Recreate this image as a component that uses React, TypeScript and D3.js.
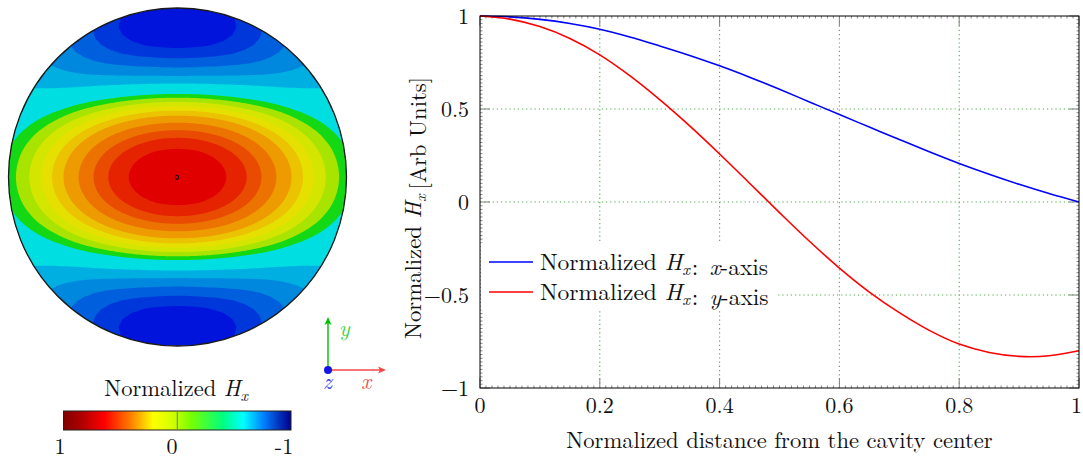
import React from 'react';
import * as d3 from 'd3';

// ---------- data ----------
const distance = [0, 0.05, 0.1, 0.15, 0.2, 0.25, 0.3, 0.35, 0.4, 0.45, 0.5, 0.55, 0.6, 0.65, 0.7, 0.75, 0.8, 0.85, 0.9, 0.95, 1];
const hxAlongX = [1.0, 0.9955, 0.982, 0.96, 0.929, 0.8875, 0.839, 0.788, 0.732, 0.671, 0.606, 0.538, 0.47, 0.403, 0.336, 0.27, 0.207, 0.149, 0.095, 0.0455, 0.0];
const hxAlongY = [1.0, 0.983, 0.943, 0.879, 0.791, 0.679, 0.55, 0.409, 0.258, 0.101, -0.057, -0.211, -0.355, -0.484, -0.595, -0.69, -0.764, -0.809, -0.83, -0.827, -0.8];

const seriesLabels = ['x', 'y'];
const seriesColors = ['#0000ff', '#ff0000'];

const xTickValues = [0, 0.2, 0.4, 0.6, 0.8, 1];
const xTickLabels = ['0', '0.2', '0.4', '0.6', '0.8', '1'];
const yTickValues = [-1, -0.5, 0, 0.5, 1];
const yTickLabels = ['\u22121', '\u22120.5', '0', '0.5', '1'];

// filled-contour levels and the colour of each band (lowest band first)
const contourLevels = [-0.71, -0.6, -0.48, -0.35, -0.22, -0.03, 0.04, 0.12, 0.2, 0.28, 0.37, 0.49, 0.61, 0.72, 0.85];
const bandColors = ['#0014dc', '#0037da', '#005fdc', '#0087de', '#00afe1', '#00dee1', '#14d814', '#a8e400', '#d4e600', '#e6e000', '#ebc300', '#ee9b00', '#ec7300', '#e94b00', '#e52300', '#e00000'];

const colorbarOffsets = [0, 0.08, 0.18, 0.29, 0.395, 0.48, 0.56, 0.7, 0.79, 0.88, 0.95, 1];
const colorbarColors = ['#800000', '#b00000', '#ff0000', '#ff7800', '#ffff00', '#d2ff00', '#78ff00', '#00ff80', '#00ffff', '#0080ff', '#0030b8', '#000090'];
const colorbarTickLabels = ['1', '0', '-1'];

const FONT = "'Latin Modern Roman','Liberation Serif','Times New Roman',serif";

function HxLabel({ size }: { size: number }) {
  return (
    <>
      <tspan fontStyle="italic">H</tspan>
      <tspan fontStyle="italic" fontSize={size * 0.7} dy={size * 0.22}>x</tspan>
      <tspan dy={-size * 0.22}>{''}</tspan>
    </>
  );
}

export default function App() {
  const W = 1083;
  const H = 461;

  // ----- left: contour map in a circle -----
  const cx = 177.5, cy = 177, R = 169;
  const fx = d3.scaleLinear().domain(distance).range(hxAlongX).clamp(true);
  const fy = d3.scaleLinear().domain(distance).range(hxAlongY).clamp(true);
  const N = 280;
  const ext = 1.03;
  const cell = (2 * R * ext) / N;
  const values: number[] = new Array(N * N);
  for (let j = 0; j < N; j++) {
    for (let i = 0; i < N; i++) {
      const px = -ext + ((i + 0.5) * 2 * ext) / N;
      const py = ext - ((j + 0.5) * 2 * ext) / N;
      const r = Math.hypot(px, py);
      const rc = Math.min(r, 1);
      const c2 = r > 1e-9 ? (px * px) / (r * r) : 0.5;
      values[j * N + i] = fx(rc) * c2 + fy(rc) * (1 - c2);
    }
  }
  const contours = d3.contours().size([N, N]).thresholds(contourLevels)(values);
  const gp = d3.geoPath();

  // ----- right: line chart -----
  const xs = d3.scaleLinear().domain([0, 1]).range([480, 1079]);
  const ys = d3.scaleLinear().domain([-1, 1]).range([388, 16]);
  const [x0, x1] = xs.range();
  const [yb, yt] = ys.range();
  const line = d3
    .line<number>()
    .x((_, i) => xs(distance[i]))
    .y((d) => ys(d))
    .curve(d3.curveCatmullRom.alpha(0.5));
  const series = [hxAlongX, hxAlongY];

  const minorX = d3.range(0, 100).map((k) => k / 100).filter((v) => Math.abs(v * 5 - Math.round(v * 5)) > 1e-6);
  const minorY = d3.range(-50, 50).map((k) => k / 50).filter((v) => Math.abs(v * 2 - Math.round(v * 2)) > 1e-6);

  const gridColor = '#4fa84f';
  const tickColor = '#808080';

  return (
    <svg width={W} height={H} style={{ position: 'absolute', left: 0, top: 0, background: '#fff' }} fontFamily={FONT}>
      <defs>
        <clipPath id="circleClip">
          <circle cx={cx} cy={cy} r={R} />
        </clipPath>
        <linearGradient id="cbGrad" x1="0" x2="1" y1="0" y2="0">
          {colorbarOffsets.map((o, i) => (
            <stop key={i} offset={o} stopColor={colorbarColors[i]} />
          ))}
        </linearGradient>
      </defs>

      {/* contour map */}
      <g clipPath="url(#circleClip)">
        <circle cx={cx} cy={cy} r={R} fill={bandColors[0]} />
        <g transform={`translate(${cx - R * ext},${cy - R * ext}) scale(${cell})`}>
          {contours.map((c, i) => (
            <path key={i} d={gp(c) || ''} fill={bandColors[i + 1]} />
          ))}
        </g>
      </g>
      <circle cx={cx} cy={cy} r={R} fill="none" stroke="#1a1a1a" strokeWidth={1.3} />
      <ellipse cx={cx - 0.5} cy={cy + 0.3} rx={1.6} ry={2.1} fill="none" stroke="#000" strokeWidth={1} />

      {/* coordinate indicator */}
      <g>
        <line x1={328} y1={370} x2={328} y2={322} stroke="#00c000" strokeWidth={1.4} />
        <path d="M328,317 L324.5,325 L328,323 L331.5,325 Z" fill="#00c000" />
        <line x1={328} y1={370} x2={380} y2={370} stroke="#f04848" strokeWidth={1.4} />
        <path d="M386,370 L378,366.5 L380,370 L378,373.5 Z" fill="#f04848" />
        <circle cx={328} cy={370} r={4} fill="#1414e6" />
        <text x={339} y={336} fontSize={22} fontStyle="italic" fill="#3cd23c">y</text>
        <text x={323} y={389} fontSize={22} fontStyle="italic" fill="#3c3ce6">z</text>
        <text x={361} y={389} fontSize={22} fontStyle="italic" fill="#f05050">x</text>
      </g>

      {/* colorbar */}
      <text x={176} y={396} fontSize={22.5} textAnchor="middle" fill="#111">
        Normalized <HxLabel size={22.5} />
      </text>
      <rect x={63.5} y={411} width={227.5} height={19} fill="url(#cbGrad)" stroke="#222" strokeWidth={1} />
      <line x1={177.3} x2={177.3} y1={411} y2={430} stroke="#777" strokeWidth={1} />
      {colorbarTickLabels.map((t, i) => (
        <text key={t} x={[60, 172, 284][i]} y={454} fontSize={22} textAnchor="middle" fill="#111">
          {t}
        </text>
      ))}

      {/* grid */}
      {xTickValues.slice(1, -1).map((v) => (
        <line key={'gx' + v} x1={xs(v)} x2={xs(v)} y1={yb} y2={yt} stroke={gridColor} strokeWidth={1.1} strokeDasharray="1.2 3" />
      ))}
      {yTickValues.slice(1, -1).map((v) => (
        <line key={'gy' + v} x1={x0} x2={x1} y1={ys(v)} y2={ys(v)} stroke={gridColor} strokeWidth={1.1} strokeDasharray="1.2 3" />
      ))}

      {/* minor ticks */}
      {minorX.map((v) => (
        <g key={'mx' + v}>
          <line x1={xs(v)} x2={xs(v)} y1={yb} y2={yb - 2.5} stroke="#555" strokeWidth={0.7} />
          <line x1={xs(v)} x2={xs(v)} y1={yt} y2={yt + 2.5} stroke="#555" strokeWidth={0.7} />
        </g>
      ))}
      {minorY.map((v) => (
        <g key={'my' + v}>
          <line x1={x0} x2={x0 + 2.5} y1={ys(v)} y2={ys(v)} stroke="#555" strokeWidth={0.7} />
          <line x1={x1} x2={x1 - 2.5} y1={ys(v)} y2={ys(v)} stroke="#555" strokeWidth={0.7} />
        </g>
      ))}

      {/* major ticks */}
      {xTickValues.map((v) => (
        <g key={'tx' + v}>
          <line x1={xs(v)} x2={xs(v)} y1={yb} y2={yb - 10} stroke={tickColor} strokeWidth={1} />
          <line x1={xs(v)} x2={xs(v)} y1={yt} y2={yt + 10} stroke={tickColor} strokeWidth={1} />
        </g>
      ))}
      {yTickValues.map((v) => (
        <g key={'ty' + v}>
          <line x1={x0} x2={x0 + 10} y1={ys(v)} y2={ys(v)} stroke={tickColor} strokeWidth={1} />
          <line x1={x1} x2={x1 - 10} y1={ys(v)} y2={ys(v)} stroke={tickColor} strokeWidth={1} />
        </g>
      ))}

      {/* curves */}
      {series.map((s, i) => (
        <path key={'s' + i} d={line(s) || ''} fill="none" stroke={seriesColors[i]} strokeWidth={1.6} />
      ))}

      {/* axis box */}
      <rect x={x0} y={yt} width={x1 - x0} height={yb - yt} fill="none" stroke="#000" strokeWidth={1} />

      {/* tick labels */}
      {xTickValues.map((v, i) => (
        <text key={'xl' + v} x={Math.min(xs(v), 1076.5)} y={413} fontSize={22} textAnchor="middle" fill="#111">
          {xTickLabels[i]}
        </text>
      ))}
      {yTickValues.map((v, i) => (
        <text key={'yl' + v} x={469} y={ys(v) + 7.5} fontSize={22} textAnchor="end" fill="#111">
          {yTickLabels[i]}
        </text>
      ))}

      {/* axis titles */}
      <text x={(x0 + x1) / 2} y={448} fontSize={22.6} textAnchor="middle" fill="#111">
        Normalized distance from the cavity center
      </text>
      <text transform="translate(421,208) rotate(-90)" fontSize={22.7} textAnchor="middle" fill="#111">
        Normalized <HxLabel size={22.7} /><tspan dx={5}>[Arb Units]</tspan>
      </text>

      {/* legend */}
      <rect x={481} y={243} width={295} height={67} fill="#fff" />
      {series.map((_, i) => (
        <g key={'lg' + i}>
          <line x1={489} x2={533} y1={262 + i * 30} y2={262 + i * 30} stroke={seriesColors[i]} strokeWidth={1.6} />
          <text x={540} y={262 + i * 30 + 7.5} fontSize={23.5} fill="#111">
            Normalized <HxLabel size={23.5} /><tspan dx={2}>:</tspan><tspan dx={11} fontStyle="italic">{seriesLabels[i]}</tspan>-axis
          </text>
        </g>
      ))}
    </svg>
  );
}
